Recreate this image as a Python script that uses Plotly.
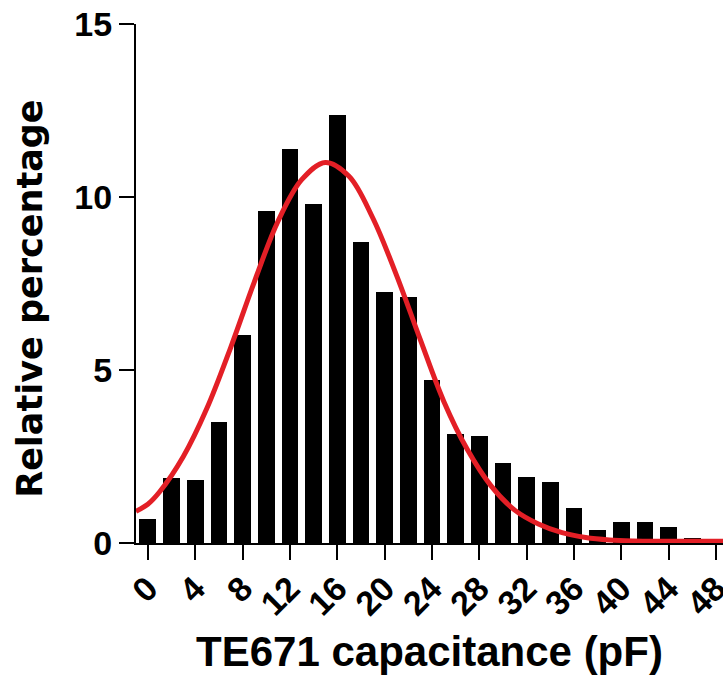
import plotly.graph_objects as go

# Histogram bins (bin centres, pF) and relative percentages
bin_centers = [0, 2, 4, 6, 8, 10, 12, 14, 16, 18, 20, 22, 24, 26, 28, 30, 32, 34, 36, 38, 40, 42, 44, 46]
rel_percent = [0.68, 1.87, 1.82, 3.5, 6.0, 9.6, 11.4, 9.8, 12.37, 8.7, 7.26, 7.1, 4.7, 3.15, 3.08,
               2.3, 1.9, 1.75, 1.0, 0.37, 0.6, 0.6, 0.45, 0.14]

# Gaussian fit curve
fit_x = [-1, 0, 1, 3, 5, 7, 9, 11, 13, 15, 17, 19, 21, 23, 25, 27, 29, 31, 33, 35, 37, 39, 41, 43, 45, 47, 48.6]
fit_y = [0.92, 1.12, 1.48, 2.5, 3.9, 5.65, 7.55, 9.3, 10.5, 11.0, 10.6, 9.4, 7.75, 5.9, 4.1, 2.7,
         1.65, 0.95, 0.55, 0.3, 0.16, 0.09, 0.06, 0.05, 0.05, 0.05, 0.05]

x_ticks = [0, 4, 8, 12, 16, 20, 24, 28, 32, 36, 40, 44, 48]
y_ticks = [0, 5, 10, 15]

FONT = "Liberation Sans, Arial, sans-serif"

fig = go.Figure()
fig.add_trace(go.Bar(x=bin_centers, y=rel_percent, width=1.41,
                     marker=dict(color="black", line=dict(width=0)), showlegend=False))
fig.add_trace(go.Scatter(x=fit_x, y=fit_y, mode="lines",
                         line=dict(color="#e31f26", width=5, shape="spline", smoothing=1.0),
                         showlegend=False))

fig.update_layout(
    width=723, height=675,
    margin=dict(l=136, r=0, t=24, b=132),
    plot_bgcolor="white", paper_bgcolor="white",
    bargap=0,
    font=dict(family=FONT, color="black"),
)
fig.update_xaxes(
    range=[-1.0, 48.6], tickmode="array", tickvals=x_ticks, ticktext=[str(v) for v in x_ticks],
    tickangle=-45, ticks="outside", ticklen=15, tickwidth=2, tickcolor="black",
    ticklabeloverflow="allow", ticklabelstandoff=-5,
    showline=True, linecolor="black", linewidth=2, showgrid=False, zeroline=False,
    tickfont=dict(family=FONT, size=34, weight="bold", color="black"),
    title=dict(text="TE671 capacitance (pF)", font=dict(family=FONT, size=42, weight="bold", color="black"),
               standoff=20),
    automargin=False,
)
fig.update_yaxes(
    range=[0, 15], tickmode="array", tickvals=y_ticks, ticktext=[str(v) for v in y_ticks],
    ticks="outside", ticklen=15, tickwidth=2, tickcolor="black",
    showline=True, linecolor="black", linewidth=2, showgrid=False, zeroline=False,
    tickfont=dict(family=FONT, size=34, weight="bold", color="black"),
    automargin=False,
)
fig.add_annotation(
    text="Relative percentage", textangle=-90, showarrow=False,
    xref="paper", yref="paper", x=-0.181, y=0.47, xanchor="center", yanchor="middle",
    font=dict(family="DejaVu Sans, sans-serif", size=35, weight="bold", color="black"),
)

fig.write_html("out.html", config={"displayModeBar": False},
               post_script="document.body.style.margin='0';document.body.style.overflow='hidden';")
